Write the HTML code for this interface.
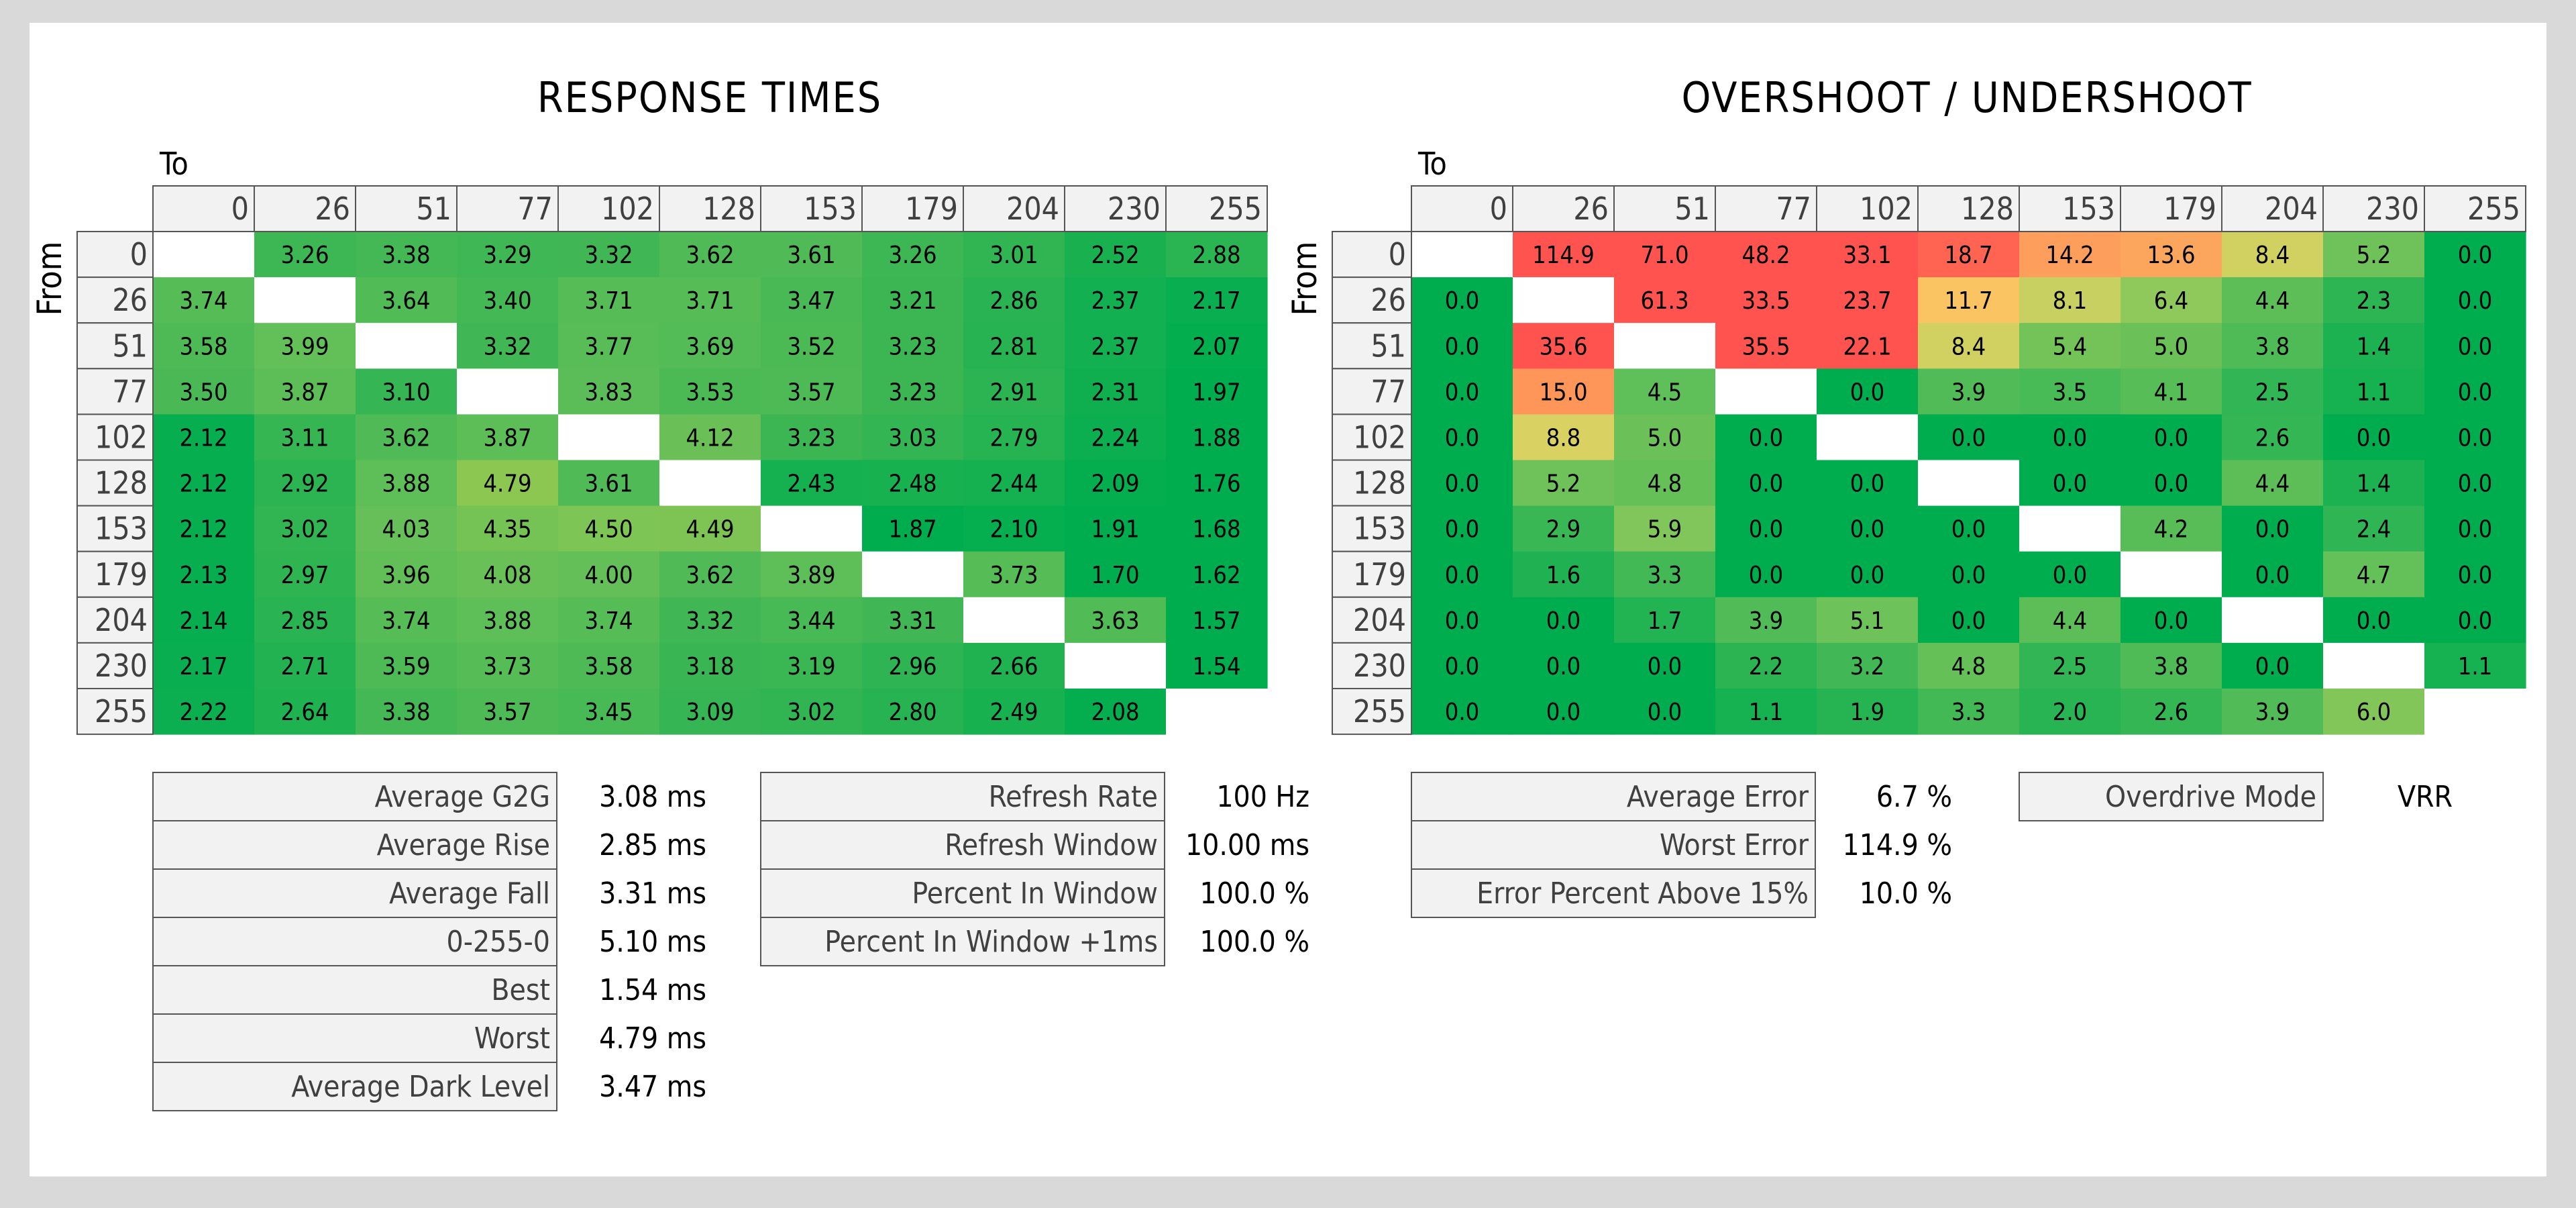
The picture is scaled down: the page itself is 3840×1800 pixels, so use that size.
<!DOCTYPE html>
<html><head><meta charset="utf-8"><style>
html,body{margin:0;padding:0;background:#d9d9d9;}
svg{display:block;}
text{font-family:"Liberation Sans Narrow","DejaVu Sans Condensed","Liberation Sans",sans-serif;}
</style></head><body>
<svg id="chart" width="3840" height="1800" viewBox="0 0 3840 1800" xmlns="http://www.w3.org/2000/svg">
<rect x="0" y="0" width="3840" height="1800" fill="#d9d9d9"/>
<rect x="44" y="34" width="3752" height="1719" fill="#ffffff"/>
<g id="root"></g>
</svg>
<script>
const levels = ["0","26","51","77","102","128","153","179","204","230","255"];
const rtValues = [
[null,3.26,3.38,3.29,3.32,3.62,3.61,3.26,3.01,2.52,2.88],
[3.74,null,3.64,3.40,3.71,3.71,3.47,3.21,2.86,2.37,2.17],
[3.58,3.99,null,3.32,3.77,3.69,3.52,3.23,2.81,2.37,2.07],
[3.50,3.87,3.10,null,3.83,3.53,3.57,3.23,2.91,2.31,1.97],
[2.12,3.11,3.62,3.87,null,4.12,3.23,3.03,2.79,2.24,1.88],
[2.12,2.92,3.88,4.79,3.61,null,2.43,2.48,2.44,2.09,1.76],
[2.12,3.02,4.03,4.35,4.50,4.49,null,1.87,2.10,1.91,1.68],
[2.13,2.97,3.96,4.08,4.00,3.62,3.89,null,3.73,1.70,1.62],
[2.14,2.85,3.74,3.88,3.74,3.32,3.44,3.31,null,3.63,1.57],
[2.17,2.71,3.59,3.73,3.58,3.18,3.19,2.96,2.66,null,1.54],
[2.22,2.64,3.38,3.57,3.45,3.09,3.02,2.80,2.49,2.08,null]
];
const osValues = [
[null,114.9,71.0,48.2,33.1,18.7,14.2,13.6,8.4,5.2,0.0],
[0.0,null,61.3,33.5,23.7,11.7,8.1,6.4,4.4,2.3,0.0],
[0.0,35.6,null,35.5,22.1,8.4,5.4,5.0,3.8,1.4,0.0],
[0.0,15.0,4.5,null,0.0,3.9,3.5,4.1,2.5,1.1,0.0],
[0.0,8.8,5.0,0.0,null,0.0,0.0,0.0,2.6,0.0,0.0],
[0.0,5.2,4.8,0.0,0.0,null,0.0,0.0,4.4,1.4,0.0],
[0.0,2.9,5.9,0.0,0.0,0.0,null,4.2,0.0,2.4,0.0],
[0.0,1.6,3.3,0.0,0.0,0.0,0.0,null,0.0,4.7,0.0],
[0.0,0.0,1.7,3.9,5.1,0.0,4.4,0.0,null,0.0,0.0],
[0.0,0.0,0.0,2.2,3.2,4.8,2.5,3.8,0.0,null,1.1],
[0.0,0.0,0.0,1.1,1.9,3.3,2.0,2.6,3.9,6.0,null]
];
const rtStatLabels = ["Average G2G","Average Rise","Average Fall","0-255-0","Best","Worst","Average Dark Level"];
const rtStatValues = ["3.08 ms","2.85 ms","3.31 ms","5.10 ms","1.54 ms","4.79 ms","3.47 ms"];
const refStatLabels = ["Refresh Rate","Refresh Window","Percent In Window","Percent In Window +1ms"];
const refStatValues = ["100 Hz","10.00 ms","100.0 %","100.0 %"];
const osStatLabels = ["Average Error","Worst Error","Error Percent Above 15%"];
const osStatValues = ["6.7 %","114.9 %","10.0 %"];
const odLabels = ["Overdrive Mode"];
const odValues = ["VRR"];

const NS = "http://www.w3.org/2000/svg";
const root = document.getElementById("root");
function mk(tag, attrs, parent, txt){
  const e = document.createElementNS(NS, tag);
  for (const k in attrs) e.setAttribute(k, attrs[k]);
  if (txt !== undefined) e.textContent = txt;
  (parent || root).appendChild(e);
  return e;
}
function lerpStops(stops, v){
  if (v <= stops[0][0]) return stops[0][1];
  for (let i=1;i<stops.length;i++){
    if (v <= stops[i][0]){
      const a=stops[i-1], b=stops[i], t=(v-a[0])/(b[0]-a[0]);
      return a[1].map((x,j)=>Math.round(x+(b[1][j]-x)*t));
    }
  }
  return stops[stops.length-1][1];
}
const rtStops = [[2.0,[0,173,78]],[3.2,[58,182,83]],[4.0,[100,191,88]],[4.9,[145,201,80]]];
const osStops = [[0,[0,173,78]],[3,[60,183,85]],[6,[130,198,90]],[8.6,[215,210,98]],[11.7,[250,196,98]],[14,[253,160,92]],[16,[254,140,88]],[19,[255,95,82]],[22,[255,83,80]]];
const rgb = c => "rgb("+c.join(",")+")";

const colW = 151, headerH = 68, rowH = 68.1, headerY = 277;
function xAt(x0, c){ return x0 + c*colW; }
function yAt(r){ return headerY + headerH + r*rowH; }

function heatmap(opts){
  const g = mk("g", {});
  
  
  const t = mk("text", {x: opts.titleX, y: 167, "text-anchor":"middle", "font-size":62, "letter-spacing":2, fill:"#000"}, g, opts.title);
  
  
  const to = mk("text", {x: opts.gridX+10, y: 260, "font-size":46, fill:"#000"}, g, "To");
  
  
  const fr = mk("text", {x: 0, y: 0, transform:"translate("+(opts.labelX-24)+","+(yAt(0)+70)+") rotate(-90)", "text-anchor":"middle", "font-size":50, fill:"#000"}, g, "From");
  
  
  opts.values.forEach((row, r) => {
    row.forEach((v, c) => {
      const x = xAt(opts.gridX, c), y = yAt(r);
      const fill = v === null ? "#ffffff" : rgb(lerpStops(opts.stops, v));
      const rc = mk("rect", {x:x, y:y, width:colW+0.6, height:rowH+0.6, fill:fill}, g);
      
      
      if (v !== null){
        const tx = mk("text", {x:x+colW/2, y:y+rowH/2+13, "text-anchor":"middle", "font-size":36, fill:"#000"}, g, v.toFixed(opts.digits));
        
        
      }
    });
  });
  levels.forEach((l, c) => {
    const x = xAt(opts.gridX, c);
    const hr = mk("rect", {x:x, y:headerY, width:colW, height:headerH, fill:"#f2f2f2", stroke:"#555", "stroke-width":2}, g);
    
    
    const ht = mk("text", {x:x+colW-8, y:headerY+headerH/2+16, "text-anchor":"end", "font-size":46, fill:"#404040"}, g, l);
    
    
  });
  levels.forEach((l, r) => {
    const y = yAt(r);
    const hr = mk("rect", {x:opts.labelX, y:y, width:opts.gridX-opts.labelX, height:rowH, fill:"#f2f2f2", stroke:"#555", "stroke-width":2}, g);
    
    
    const ht = mk("text", {x:opts.gridX-8, y:y+rowH/2+16, "text-anchor":"end", "font-size":46, fill:"#404040"}, g, l);
    
    
  });
}

function statTable(name, x0, x1, valX, anchor, labels, values){
  const g = mk("g", {});
  
  
  const y0 = 1151, h = 72;
  labels.forEach((l, i) => {
    const y = y0 + i*h;
    const r = mk("rect", {x:x0, y:y, width:x1-x0, height:h, fill:"#f2f2f2", stroke:"#555", "stroke-width":2}, g);
    
    
    const t = mk("text", {x:x1-10, y:y+h/2+15, "text-anchor":"end", "font-size":44, fill:"#404040"}, g, l);
    
    
    const v = mk("text", {x:valX, y:y+h/2+15, "text-anchor":anchor, "font-size":44, fill:"#000"}, g, values[i]);
    
    
  });
}

heatmap({name:"response-times-heatmap", title:"RESPONSE TIMES", titleX:1058, labelX:115, gridX:228, values:rtValues, stops:rtStops, digits:2});
heatmap({name:"overshoot-heatmap", title:"OVERSHOOT / UNDERSHOOT", titleX:2932, labelX:1986, gridX:2104, values:osValues, stops:osStops, digits:1});
statTable("response-stats", 228, 830, 1053, "end", rtStatLabels, rtStatValues);
statTable("refresh-stats", 1134, 1736, 1952, "end", refStatLabels, refStatValues);
statTable("error-stats", 2104, 2706, 2910, "end", osStatLabels, osStatValues);
statTable("overdrive-stats", 3010, 3463, 3615, "middle", odLabels, odValues);
</script>
</body></html>
